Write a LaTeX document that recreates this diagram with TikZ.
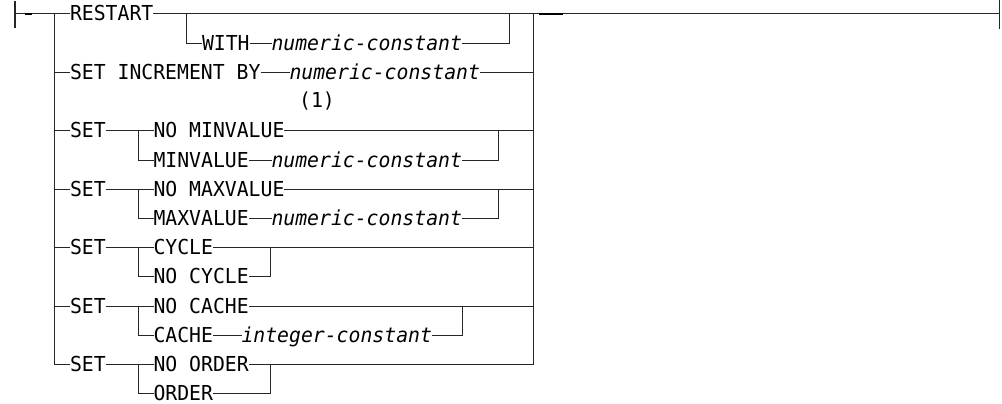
\documentclass[tikz,border=0pt]{standalone}
\usepackage{fontspec}
\setmonofont[FakeStretch=0.96,ItalicFont={DejaVu Sans Mono Oblique}]{DejaVu Sans Mono}
\tikzset{
  rr/.style={line width=1pt, draw=black!85},
  endbar/.style={line width=1.3pt, draw=black!85},
  heavy/.style={line width=2.2pt, draw=black},
  kw/.style={font=\ttfamily\fontsize{20.6pt}{24pt}\selectfont, text=black,
             inner sep=0pt, outer sep=0pt, text height=14pt, text depth=0pt, anchor=west},
  var/.style={kw, font=\ttfamily\itshape\fontsize{20.6pt}{24pt}\selectfont},
}
\begin{document}
\begin{tikzpicture}[x=1pt, y=-1pt]
\useasboundingbox (0,0) rectangle (1002,404);
% row heights
\def\rA{14}\def\rB{43.2}\def\rC{72.4}\def\rD{130.8}\def\rE{160}
\def\rF{189.2}\def\rG{218.4}\def\rH{247.6}\def\rI{276.8}\def\rJ{306}
\def\rK{335.2}\def\rL{364.4}\def\rM{393.4}

% junction points
\coordinate (start) at (15,\rA);
\coordinate (fin) at (999.5,\rA);
\coordinate (jL) at (54,\rA);
\coordinate (jR) at (533,\rA);
\coordinate (a0) at (186.5,\rA);
\coordinate (b0) at (509.5,\rA);
\coordinate (m4) at (138,\rD);
\coordinate (b4) at (498,\rD);
\coordinate (m6) at (138,\rF);
\coordinate (b6) at (498,\rF);
\coordinate (m8) at (138,\rH);
\coordinate (b8) at (270,\rH);
\coordinate (m10) at (138,\rJ);
\coordinate (b10) at (462,\rJ);
\coordinate (m12) at (138,\rL);
\coordinate (b12) at (270,\rL);

% keywords and variables
\node[kw] (restart) at (70,\rA) {RESTART};
\node[kw] (with) at (202,\rB) {WITH};
\node[var] (nv1) at (271.5,\rB) {numeric-constant};
\node[kw] (incr) at (70,\rC) {SET INCREMENT BY};
\node[var] (nv2) at (289.5,\rC) {numeric-constant};
\node[kw, anchor=center] (note) at (317,100.5) {(1)};

\node[kw] (set1) at (70,\rD) {SET};
\node[kw] (nomin) at (153.5,\rD) {NO MINVALUE};
\node[kw] (minv) at (153.5,\rE) {MINVALUE};
\node[var] (nv3) at (271.5,\rE) {numeric-constant};

\node[kw] (set2) at (70,\rF) {SET};
\node[kw] (nomax) at (153.5,\rF) {NO MAXVALUE};
\node[kw] (maxv) at (153.5,\rG) {MAXVALUE};
\node[var] (nv4) at (271.5,\rG) {numeric-constant};

\node[kw] (set3) at (70,\rH) {SET};
\node[kw] (cyc) at (153.5,\rH) {CYCLE};
\node[kw] (nocyc) at (153.5,\rI) {NO CYCLE};

\node[kw] (set4) at (70,\rJ) {SET};
\node[kw] (nocache) at (153.5,\rJ) {NO CACHE};
\node[kw] (cache) at (153.5,\rK) {CACHE};
\node[var] (iv) at (241.5,\rK) {integer-constant};

\node[kw] (set5) at (70,\rL) {SET};
\node[kw] (noord) at (153.5,\rL) {NO ORDER};
\node[kw] (ord) at (153.5,\rM) {ORDER};

% main line with end bars
\draw[endbar] ([yshift=12.5pt]start) -- ([yshift=-14.5pt]start);
\draw[endbar] ([yshift=13.5pt]fin) -- ([yshift=-15.5pt]fin);
\draw[rr] (start) -- (restart.west);
\draw[rr] (restart.east) -- (fin);
\draw[heavy] ([xshift=10pt]start) -- ([xshift=17pt]start);
\draw[heavy] ([xshift=6pt]jR) -- ([xshift=30pt]jR);

% RESTART [WITH numeric-constant]
\draw[rr] (a0) |- (with.west);
\draw[rr] (with.east) -- (nv1.west);
\draw[rr] (nv1.east) -| (b0);

% SET INCREMENT BY
\draw[rr] (jL) |- (incr.west);
\draw[rr] (incr.east) -- (nv2.west);
\draw[rr] (nv2.east) -| (jR);

% SET MINVALUE
\draw[rr] (jL) |- (set1.west);
\draw[rr] (set1.east) -- (nomin.west);
\draw[rr] (nomin.east) -| (jR);
\draw[rr] (m4) |- (minv.west);
\draw[rr] (minv.east) -- (nv3.west);
\draw[rr] (nv3.east) -| (b4);

% SET MAXVALUE
\draw[rr] (jL) |- (set2.west);
\draw[rr] (set2.east) -- (nomax.west);
\draw[rr] (nomax.east) -| (jR);
\draw[rr] (m6) |- (maxv.west);
\draw[rr] (maxv.east) -- (nv4.west);
\draw[rr] (nv4.east) -| (b6);

% SET CYCLE
\draw[rr] (jL) |- (set3.west);
\draw[rr] (set3.east) -- (cyc.west);
\draw[rr] (cyc.east) -| (jR);
\draw[rr] (m8) |- (nocyc.west);
\draw[rr] (nocyc.east) -| (b8);

% SET CACHE
\draw[rr] (jL) |- (set4.west);
\draw[rr] (set4.east) -- (nocache.west);
\draw[rr] (nocache.east) -| (jR);
\draw[rr] (m10) |- (cache.west);
\draw[rr] (cache.east) -- (iv.west);
\draw[rr] (iv.east) -| (b10);

% SET ORDER
\draw[rr] (jL) |- (set5.west);
\draw[rr] (set5.east) -- (noord.west);
\draw[rr] (noord.east) -| (jR);
\draw[rr] (m12) |- (ord.west);
\draw[rr] (ord.east) -| (b12);
\end{tikzpicture}
\end{document}
